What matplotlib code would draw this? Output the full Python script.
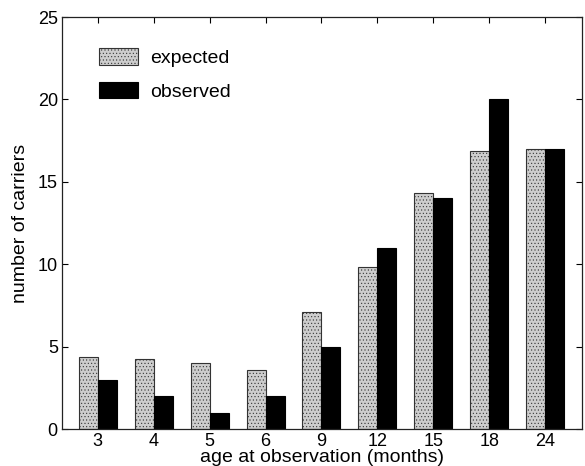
import matplotlib
matplotlib.use("Agg")
import matplotlib.pyplot as plt
import numpy as np

plt.rcParams['font.family'] = ['Liberation Sans', 'DejaVu Sans']
plt.rcParams['hatch.color'] = '#a8a8a8'
plt.rcParams['hatch.linewidth'] = 0.4

ages = ['3', '4', '5', '6', '9', '12', '15', '18', '24']
expected = [4.35, 4.23, 4.02, 3.58, 7.12, 9.83, 14.35, 16.87, 16.98]
observed = [3, 2, 1, 2, 5, 11, 14, 20, 17]

fig = plt.figure(figsize=(5.85, 4.66), dpi=100)
ax = fig.add_axes([62 / 585, 37 / 466, 520 / 585, 412 / 466])

x = np.arange(1, len(ages) + 1)
w = 0.34
ax.bar(x - w / 2, expected, w, color='#cdcdcd', edgecolor='#333333',
       linewidth=0.8, hatch='.....', label='expected')
ax.bar(x + w / 2, observed, w, color='black', edgecolor='black',
       linewidth=0.8, label='observed')

ax.set_xlim(0.36, 9.66)
ax.set_ylim(0, 25)
ax.set_xticks(x)
ax.set_xticklabels(ages)
ax.set_yticks([0, 5, 10, 15, 20, 25])
ax.tick_params(direction='in', top=True, right=True, labelsize=13,
               length=4, width=0.8, pad=3)
for s in ax.spines.values():
    s.set_linewidth(0.9)
    s.set_color('#222222')

ax.set_xlabel('age at observation (months)', fontsize=14, labelpad=-1)
ax.set_ylabel('number of carriers', fontsize=14, labelpad=6)

ax.legend(loc='upper left', bbox_to_anchor=(0.071, 0.925), frameon=False,
          fontsize=14, handlelength=2.0, handleheight=0.95,
          labelspacing=0.75, handletextpad=0.65, borderpad=0,
          borderaxespad=0)

fig.savefig('out.png', dpi=100)
